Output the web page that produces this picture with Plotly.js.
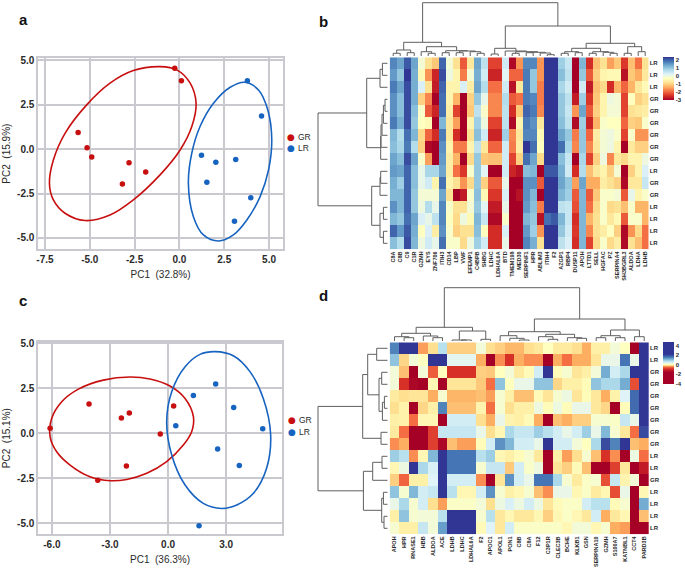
<!DOCTYPE html>
<html><head><meta charset="utf-8">
<script src="https://cdn.plot.ly/plotly-3.0.1.min.js"></script>
<style>html,body{margin:0;padding:0;background:#fff}#p{width:685px;height:569px}</style>
</head><body><div id="p"></div>
<script>
// ---------- panel a (PCA) ----------
const aGRx=[-5.65,-5.15,-4.89,-2.81,-1.88,-3.18,-0.26,0.11];
const aGRy=[0.93,0.07,-0.44,-0.76,-1.29,-1.96,4.55,3.84];
const aLRx=[1.23,2.03,3.14,1.53,3.98,3.07,3.79,4.58];
const aLRy=[-0.35,-0.74,-0.59,-1.87,-2.73,-4.06,3.84,1.87];
const aGRellX=[-1.08,-0.15,0.60,0.93,0.69,0.04,-1.08,-2.57,-3.87,-5.26,-6.38,-7.03,-7.25,-7.03,-6.38,-5.17,-3.87,-2.57,-1.08];
const aGRellY=[4.64,4.46,3.71,2.58,1.27,-0.05,-1.45,-2.86,-3.71,-4.02,-3.61,-2.86,-1.92,-0.61,0.89,2.49,3.71,4.42,4.64];
const aLRellX=[3.66,4.41,4.93,5.15,4.97,4.50,3.76,3.01,2.18,1.34,0.78,0.50,0.69,1.15,1.90,2.83,3.66];
const aLRellY=[3.76,3.33,2.20,0.52,-1.17,-2.67,-3.99,-4.83,-5.17,-4.83,-3.80,-1.92,-0.23,1.27,2.58,3.48,3.76];
// ---------- panel c (PCA) ----------
const cGRx=[-6.09,-4.08,-2.41,-2.00,0.29,-0.40,-2.15,-3.63];
const cGRy=[0.28,1.63,0.85,1.13,1.52,-0.04,-1.81,-2.61];
const cLRx=[0.40,1.31,2.46,3.39,4.89,2.56,3.68,1.60];
const cLRy=[0.43,2.11,2.74,1.44,0.26,-0.87,-1.78,-5.13];
const cGRellX=[-1.96,-0.93,0.10,0.88,1.31,1.22,0.79,-0.07,-1.10,-2.13,-2.99,-4.03,-5.06,-5.75,-6.09,-6.01,-5.49,-4.63,-3.34,-1.96];
const cGRellY=[3.13,3.02,2.63,1.94,0.93,0.09,-0.65,-1.57,-2.22,-2.56,-2.63,-2.41,-1.76,-1.02,-0.19,0.83,1.76,2.46,2.96,3.13];
const cLRellX=[2.43,3.37,4.23,4.92,5.30,5.09,4.41,3.55,2.77,1.82,0.88,0.19,-0.07,0.19,0.88,1.65,2.43];
const cLRellY=[4.54,4.31,3.43,1.94,-0.09,-1.94,-3.33,-3.98,-4.17,-3.89,-2.87,-1.20,0.65,2.31,3.70,4.39,4.54];
const aXticks=[-7.5,-5,-2.5,0,2.5,5], aXlabels=["-7.5","-5.0","-2.5","0.0","2.5","5.0"];
const yTicks=[-5,-2.5,0,2.5,5], yLabels=["-5.0","-2.5","0.0","2.5","5.0"];
const cXticks=[-6,-3,0,3], cXlabels=["-6.0","-3.0","0.0","3.0"];
// ---------- heatmap b ----------
const bCols=["C8A","C8B","C9","C1R","GZMH","EYS","ZNF706","ITIH3","CD14","LBP","VWF","EFEMP1","C4BPB","SHBG","LDHC","LDHAL6A","BTD","TMEM198","MED30","SERPINF1","HPR","ABLIM3","ITIH4","F2","AZGP1","RBP4","DUSP11","APOH","LTTD1","SELL","HGFAC","PZ","SERPINA4","SH3BGRL3","ALDOA","LDHA","LDHB"];
const bRows=["LR","LR","LR","GR","GR","GR","GR","GR","GR","LR","GR","GR","LR","LR","LR","LR"];
const bVals=[
[1.7,1.4,2.1,1.4,-0.1,-0.8,-1.1,2.0,-0.1,-0.8,-2.1,-0.7,1.4,0.6,-2.3,-2.3,0.4,-2.9,-1.6,1.7,1.7,-1.6,2.4,2.4,0.9,0.5,-3,1.2,-2.5,-1.2,-0.8,-1.5,-1.1,-2.4,-1.2,-1.9,-0.8],
[1.5,1.0,2.4,1.3,-0.4,-1.6,-2.6,2.2,0.0,-0.5,-1.8,-0.1,1.3,0.4,-2.6,-2.6,0.2,-2.0,-2.0,1.8,1.0,-1.6,2.4,2.4,1.1,0.6,-3,1.0,-2.1,-1.0,-0.5,-0.4,-0.4,-2.8,-1.1,-1.4,-0.7],
[1.8,1.4,2.2,1.3,0.3,-0.8,-2.7,2.0,-0.5,-0.5,0.3,-0.6,1.4,0.7,-1.9,-1.9,0.4,-2.8,-0.7,1.8,1.0,-1.8,2.4,2.4,0.8,0.4,-3,0.4,-2.7,-1.2,-0.9,-2.5,-1.3,-2.0,-1.3,-0.7,-0.4],
[1.6,1.1,2.2,1.3,-1.0,-1.7,-3,1.9,-0.5,-1.3,-3,-1.0,1.0,0.1,-1.7,-1.7,0.7,-2.1,-1.9,1.8,1.7,-1.8,2.4,2.4,1.0,0.6,-2.7,0.9,-2.4,-1.1,-0.5,0,-0.1,-2.3,-0.3,-1.0,-0.8],
[1.6,1.1,2.2,1.1,-0.2,-2.1,-2.6,1.9,-0.6,-2.3,-3,-1.1,0.6,-0.2,-1.7,-1.7,0.6,-2.5,-1.1,2.0,1.8,-1.7,2.4,2.4,1.0,0.5,-1.6,1.4,-2.1,-1.0,-0.5,-0.1,-0.1,-2.3,-0.8,-0.7,-0.6],
[1.8,1.3,2.2,1.0,-0.3,-0.4,-3,1.2,-0.7,-1.5,-3,-0.5,0.9,0,-2.3,-2.3,0.6,-2.9,-0.5,1.8,1.6,-0.7,2.4,2.4,1.1,0.6,-2.9,0.9,-2.6,-1.3,-0.2,-0.3,-0.3,-2.0,-1.0,-1.1,-0.2],
[1.2,0.7,1.9,1.2,-0.9,-2.0,-2.5,1.8,-0.7,-2.5,-3,-0.8,1.1,0.4,-2.6,-2.6,0.9,-1.7,-0.7,1.7,1.7,-0.4,2.4,2.4,1.4,1.0,-1.8,1.0,-2.0,-0.6,-0.1,0,-0.2,-2.3,-0.2,-1.6,-1.6],
[1.1,0.8,1.8,0.7,-1.0,-2.9,-3,1.6,-0.5,-1.8,-1.8,-0.5,0.6,-0.7,-2.0,-2.0,0.4,-1.8,-0.6,2.4,1.9,-0.3,2.4,2.4,1.9,0.8,-1.7,1.0,-1.7,-0.7,-0.1,0,-0.5,-3,-0.7,-1.0,-1.0],
[1.4,1.1,2.2,1.4,-0.2,-1.5,-3,1.5,-0.6,-1.3,-3,-0.9,1.0,-1.1,-1.2,-1.2,0.4,-2.3,-1.0,1.9,1.4,-0.9,2.4,2.4,1.1,0.5,-3,0.8,-2.3,-1.0,0,-1.7,-0.7,-0.9,-0.5,-0.5,0],
[1.5,1.4,2.0,1.1,0.1,0.8,0.8,1.4,-0.6,-1.9,-2.4,-0.2,1.0,0.2,-3,-3,0.4,-2.6,-2.8,1.1,1.2,-3,2.1,2.1,1.3,0.4,-2.5,0.7,-1.2,-0.7,-0.5,-1.0,-0.1,-3,-1.0,-0.5,0.3],
[1.3,0.9,2.0,1.1,0.1,0.4,-0.5,1.9,-0.5,-0.8,-1.6,-0.9,1.0,-1.0,-2.1,-2.1,0.1,-3,-3,1.6,1.6,-2.1,2.4,2.4,1.4,1.0,-1.5,1.4,-1.4,-1.4,-0.6,-0.8,-1.0,-2.9,-0.7,-0.7,0.5],
[1.2,1.2,2.0,1.0,-0.1,-0.1,-0.1,1.4,-0.8,-3,-2.7,-0.2,1.1,-0.4,-2.4,-2.4,0.3,-3,-2.8,1.6,1.2,-3,2.4,2.4,1.2,0.9,-2.1,1.2,-2.1,-1.1,-0.2,-0.2,-0.1,-2.1,0.1,-0.5,-0.2],
[1.6,1.2,2.0,1.0,0,0.7,0.1,1.7,-0.2,-0.8,-0.8,-0.1,1.0,0.2,-2.7,-2.7,0.1,-3,-3,1.5,1.1,-1.8,2.4,2.4,0.6,0.5,-2.2,1.2,-1.9,-0.9,-0.2,-0.9,-0.8,-1.2,-0.2,-1.3,-1.3],
[1.2,1.0,1.9,1.4,0.3,0.1,0.6,1.7,-0.3,-0.9,0,-0.4,1.2,0.5,-2.9,-2.9,-0.2,-3,-3,1.2,1.0,-2.8,1.9,2.1,1.2,0.5,-2.5,1.2,-1.3,-0.8,-0.2,-0.7,-0.4,-2.1,-0.2,-0.2,-1.3],
[2.0,1.5,2.1,1.3,-0.3,0.3,-0.6,1.6,-0.2,-1.0,-0.8,-0.8,1.1,-0.3,-2.5,-2.5,0.3,-3,-3,1.5,0.9,-1.6,2.4,2.4,1.0,0.4,-2.4,1.2,-1.7,-0.8,-0.6,-0.3,-1.0,-2.9,-1.6,-0.9,-1.9],
[1.1,0.7,2.2,1.2,0,0.4,0.1,1.9,-0.2,-0.2,-0.9,0,0.9,0.4,-2.5,-2.5,0.1,-3,-3,1.7,1.3,-0.8,2.4,2.4,0.6,0.3,-2.5,1.2,-2.3,-0.9,-0.2,-0.9,-0.6,-2.9,-0.8,-1.2,-1.9]
];
// ---------- heatmap d ----------
const dCols=["APOH","HPR","RNASE1","HBB","ALDOA","ACE","LDHB","LDHC","LDHAL6A","F2","APOC1","APOL1","PON1","C8B","C8A","F12","C3P1R","CLEC3B","BCHE","KLKB1","GSN","SERPINA10","GZMH","S100A7","KATNBL1","CCT4","PARD3B"];
const dRows=["LR","LR","GR","GR","GR","GR","GR","GR","GR","LR","LR","GR","LR","LR","LR","LR"];
const dVals=[
[1.5,3,3,-0.35,-0.15,0.7,-0.2,-0.2,-0.2,0.2,-0.15,-0.2,-0.27,-0.27,-0.15,-0.1,0.05,-0.08,-0.08,-0.15,-0.3,-0.05,-0.05,0.2,0.05,-2.5,4],
[1.0,-0.18,0.2,0.05,3,3,0.35,0.35,0.35,-0.3,-2.5,-0.4,-0.9,-0.3,-0.4,-0.4,-2.5,-0.3,-0.5,-0.3,-0.3,-0.12,0.3,0.3,1.6,0.3,4],
[0.2,-0.25,-2.5,0.2,-0.6,0.05,-0.9,-0.9,-0.9,-0.2,-0.22,0.05,0.2,-0.08,0.02,0.5,3,0.03,0.15,-0.12,-0.05,0.2,1.2,0.5,0.8,3,4],
[0.2,-0.9,-1.5,-2.2,0.0,-1.6,-0.12,-0.12,-0.12,-0.22,-0.5,1.0,0.05,0.3,0.3,1.0,1.0,-0.18,-0.05,-0.05,0.03,1.0,0.8,0.8,1.2,-0.7,4],
[-0.08,-0.15,-0.12,-0.12,-0.3,0.15,-0.28,-0.28,-0.28,-0.25,-0.35,0.15,-0.05,-0.25,-0.25,0.02,-0.12,0.15,0.25,-0.12,0.03,-0.1,-0.3,-0.03,0.4,1.7,4],
[-0.15,-0.03,-2.5,-0.18,-0.05,1.5,-0.25,-0.25,-0.25,-0.02,-0.5,0.15,-0.15,-0.05,-0.05,0.25,0.03,0.25,0.03,0.3,0.3,-0.1,-0.18,-2.5,0.03,1.7,4],
[-0.05,-0.03,-0.5,0,0,-1.6,0.5,0.5,0.5,-0.15,-0.3,0.3,-0.02,-0.05,0.02,-0.3,-1.6,-0.25,-0.3,-0.2,-0.2,0.15,0.15,0.1,0.6,0.3,4],
[-0.08,-0.5,-2.5,-2.5,-0.8,0.6,0.6,0.6,0.6,0.3,-0.15,0.0,0.8,0.6,0.6,0.9,0.7,0.5,0.3,0.5,0.9,0.3,1.1,0.15,-0.1,-0.5,2.0],
[-0.4,-0.3,-2.5,-2.5,-0.8,-1.5,-0.25,-0.35,-0.35,0.03,0.5,1.4,1.1,0.5,0.5,0.3,3,0.5,0.5,0.2,0.05,0.8,2,1.5,2.7,-0.25,-0.3],
[0.9,0.7,-0.4,0.0,1.1,3,1.6,1.6,1.6,0.7,0.9,0,-0.05,0.03,0.15,-0.1,-2.5,-0.05,-0.35,-0.15,0.15,-0.25,-0.9,-0.4,-2.5,0.25,-0.5],
[0.0,0.25,3,0.8,0.45,3,1.6,1.6,1.6,0.15,0.6,0.6,-0.22,0.5,0.12,0.25,-1.8,-0.12,-0.2,0.02,-0.25,-2.5,-1.8,-0.8,-0.1,-2.5,-1.2],
[-0.2,-0.55,-0.05,-0.05,0.4,3,0.5,0.5,0.5,-0.4,-2.5,-0.12,1.4,0.5,0.3,1.6,1.6,0.8,0.15,-0.08,0.1,0.15,-0.7,0.6,-0.02,0.2,-2.5],
[1.0,0.15,1.1,0.5,0.6,3,0.7,0.0,0,0.5,1.4,0.15,-0.05,0.0,0.15,-0.25,-0.4,0.3,0.3,0.0,0.1,-0.08,0.0,-0.7,0.3,-2.5,0],
[0.3,0.8,0.15,0.5,-0.15,-0.35,0.1,0.1,0.1,0.2,-0.15,0.25,0.45,0.25,0.5,0.25,-0.12,0.02,0.1,0.1,0.5,0.7,0.7,0.02,0.15,-2.5,1.2],
[-0.05,1.0,0.15,0.2,0.2,0.7,2.4,2.4,2.4,0.15,0.7,-0.1,0.0,-0.1,-0.1,0.0,-0.2,0.0,0.1,0.0,-0.1,0.5,-0.3,-0.1,0.0,-2.5,-0.25],
[0.15,-0.05,-0.05,0.6,0.2,1.3,2.4,2.4,2.4,0.02,0.4,-0.1,0.5,0.1,0.1,0.1,0.1,0.1,0.0,0.2,0.2,0.0,0.15,-0.3,-0.35,-2.5,-2.5]
];
// ---------- dendrograms: nested [height, left, right], a plain number is a leaf index ----------
const bColTree=[53.3,
 [13.7,[6,[2.7,0,1],[3.3,2,3]],[9.3,[4.3,4,[2.7,5,6]],[5.3,[3.3,7,8],[5,[3.3,9,10],[4.3,11,[2.7,12,13]]]]]],
 [30,[7.7,[2,14,15],[5,16,[4.3,[2.7,17,18],[3.7,[3.3,19,20],[3,21,[1.3,22,23]]]]]],
  [12.7,[7.7,[4.3,[2.7,24,25],[3.3,26,27]],[4.3,[2.7,28,29],[3.7,30,[2.7,31,32]]]],[9.3,[2.7,33,34],[4.3,35,36]]]]];
const bRowTree=[69.7,
 [21,[7.7,[5.3,0,1],2],[7,[6.7,[5.7,[4.3,[2.7,3,4],5],6],7],8]],
 [16,[7.7,[7,9,10],11],[7.7,[4.3,12,13],[4.3,14,15]]]];
const dColTree=[53.3,
 [13.7,[7.7,[4.3,0,[3.3,1,2]],[5,3,[3.3,4,5]]],[10,[1,6,[1,7,8]],[1.7,9,10]]],
 [22,[9.3,[5.3,11,[2.7,12,[1,13,14]]],[6.7,[4.3,15,[1.7,16,17]],[3.3,18,[2.7,19,20]]]],
  [11,[5.3,[3.3,21,22],[3.3,23,24]],[4.3,25,26]]]];
const dRowTree=[69.7,
 [25,[20,[11,0,1],[8.7,[6,2,3],[5.3,[3.3,4,5],6]]],[6.7,7,8]],
 [24.3,[15,[5.7,9,10],11],[6,[4.3,12,13],[3.7,14,15]]]];
// ---------- colour scales ----------
const bStops=[-3,-2.46,-1.92,-1.38,-0.84,-0.3,0.24,0.78,1.32,1.86,2.4];
const bColors=["#a50026","#d73027","#f46d43","#fdae61","#fee090","#ffffbf","#e0f3f8","#abd9e9","#74add1","#4575b4","#313695"];
const dStops=[-4.1,-1.6,-0.9,-0.5,-0.3,-0.15,0.05,0.4,0.8,1.2,1.6,2.2,4.8];
const dColors=["#a50026","#a50026","#d73027","#f46d43","#fdae61","#fee090","#ffffbf","#e0f3f8","#abd9e9","#74add1","#4575b4","#313695","#313695"];

const W=685,H=569,RED="#c80f0f",BLUE="#1763c0",GRID="#c9c9cf",TXT="#2a2a2a",FAM="'Liberation Sans',Arial,sans-serif";
const xd=(a,b)=>[a/W,b/W], yd=(t,b)=>[1-b/H,1-t/H];
const scale=(s,c)=>s.map((v,i)=>[(v-s[0])/(s[s.length-1]-s[0]),c[i]]);
function walk(t,out){
  if(typeof t==="number") return {p:t,h:0};
  const a=walk(t[1],out), b=walk(t[2],out);
  out.p.push(a.p,a.p,b.p,b.p,null); out.h.push(a.h,t[0],t[0],b.h,null);
  return {p:(a.p+b.p)/2,h:t[0]};
}
function dendro(tree){const o={p:[],h:[]};walk(tree,o);return o;}
const traces=[];
function pca(gx,gy,lx,ly,gex,gey,lex,ley,xa,ya){
  traces.push({type:"scatter",mode:"lines",x:gex,y:gey,xaxis:xa,yaxis:ya,line:{color:RED,width:1.6,shape:"spline",smoothing:1},showlegend:false,hoverinfo:"skip"});
  traces.push({type:"scatter",mode:"lines",x:lex,y:ley,xaxis:xa,yaxis:ya,line:{color:BLUE,width:1.6,shape:"spline",smoothing:1},showlegend:false,hoverinfo:"skip"});
  traces.push({type:"scatter",mode:"markers",name:"GR",x:gx,y:gy,xaxis:xa,yaxis:ya,showlegend:false,marker:{color:RED,size:5.5},cliponaxis:false});
  traces.push({type:"scatter",mode:"markers",name:"LR",x:lx,y:ly,xaxis:xa,yaxis:ya,showlegend:false,marker:{color:BLUE,size:5.5},cliponaxis:false});
}
pca(aGRx,aGRy,aLRx,aLRy,aGRellX,aGRellY,aLRellX,aLRellY,"x","y");
pca(cGRx,cGRy,cLRx,cLRy,cGRellX,cGRellY,cLRellX,cLRellY,"x2","y2");
function heat(vals,cols,rows,stops,colors,xa,ya,cbTop,cbH,cbTicks){
  traces.push({type:"heatmap",z:vals,x:cols.map((_,i)=>i),y:rows.map((_,i)=>i),xaxis:xa,yaxis:ya,
    zmin:stops[0],zmax:stops[stops.length-1],colorscale:scale(stops,colors),zsmooth:false,hoverinfo:"skip",
    colorbar:{x:663.3/W,xanchor:"left",y:1-cbTop/H,yanchor:"top",lenmode:"pixels",len:cbH,thicknessmode:"pixels",thickness:11,
      xpad:0,ypad:0,outlinewidth:0,tickmode:"array",tickvals:cbTicks,ticktext:cbTicks.map(String),ticklen:0,ticks:"",
      tickfont:{size:6,family:FAM,weight:"bold",color:TXT}}});
}
heat(bVals,bCols,bRows,bStops,bColors,"x3","y3",57,42.5,[2,1,0,-1,-2,-3]);
heat(dVals,dCols,dRows,dStops,dColors,"x4","y4",342,41.5,[4,2,0,-2,-4]);
function dtrace(x,y,xa,ya){traces.push({type:"scatter",mode:"lines",x,y,xaxis:xa,yaxis:ya,line:{color:"#5f5f5f",width:1},showlegend:false,hoverinfo:"skip",cliponaxis:false});}
let d=dendro(bColTree); dtrace(d.p,d.h,"x3","y5");
d=dendro(bRowTree); dtrace(d.h,d.p,"x5","y3");
d=dendro(dColTree); dtrace(d.p,d.h,"x4","y6");
d=dendro(dRowTree); dtrace(d.h,d.p,"x6","y4");

const tickF={size:10,family:FAM,weight:"bold",color:TXT};
function pcaX(dom,rng,tv,tt,title,anchor){return {domain:dom,range:rng,anchor,tickmode:"array",tickvals:tv,ticktext:tt,tickfont:tickF,showgrid:true,gridcolor:GRID,gridwidth:2,zeroline:false,showline:true,linecolor:GRID,linewidth:2,mirror:true,ticks:"",title:{text:title,font:{size:10,family:FAM,color:TXT},standoff:7}};}
function pcaY(dom,rng,title,anchor){return {domain:dom,range:rng,anchor,tickmode:"array",tickvals:yTicks,ticktext:yLabels,tickfont:tickF,showgrid:true,gridcolor:GRID,gridwidth:2,zeroline:false,showline:true,linecolor:GRID,linewidth:2,mirror:true,ticks:"",title:{text:title,font:{size:10,family:FAM,color:TXT},standoff:5}};}
function hx(dom,cols,anchor){return {domain:dom,range:[-0.5,cols.length-0.5],anchor,tickmode:"array",tickvals:cols.map((_,i)=>i),ticktext:cols,tickangle:-90,tickfont:{size:5.5,family:FAM,weight:"bold",color:TXT},ticks:"",showgrid:false,zeroline:false,showline:false};}
function hy(dom,rows,anchor){return {domain:dom,range:[rows.length-0.5,-0.5],anchor,side:"right",tickmode:"array",tickvals:rows.map((_,i)=>i),ticktext:rows,tickfont:{size:6,family:FAM,weight:"bold",color:TXT},ticks:"",showgrid:false,zeroline:false,showline:false};}
const hid=(dom,rng,anchor)=>({domain:dom,range:rng,anchor,visible:false,fixedrange:true});
const lab=(t,x,y)=>({text:"<b>"+t+"</b>",x:x/W,y:1-y/H,xref:"paper",yref:"paper",showarrow:false,xanchor:"center",yanchor:"middle",font:{size:15,family:FAM,color:"#111"}});
const keyDot=(c,x,y)=>({text:"●",x:x/W,y:1-y/H,xref:"paper",yref:"paper",showarrow:false,xanchor:"center",yanchor:"middle",font:{size:9,family:"DejaVu Sans",color:c}});
const keyTxt=(t,x,y)=>({text:t,x:x/W,y:1-y/H,xref:"paper",yref:"paper",showarrow:false,xanchor:"left",yanchor:"middle",xshift:-1,font:{size:8.5,family:FAM,color:TXT}});
const layout={width:W,height:H,margin:{l:0,r:0,t:0,b:0},paper_bgcolor:"#fff",plot_bgcolor:"#fff",font:{family:FAM},showlegend:false,
  xaxis:pcaX(xd(38.3,282.7),[-7.87,5.76],aXticks,aXlabels,"PC1  (32.8%)","y"),
  yaxis:pcaY(yd(58.3,249),[-5.62,5.11],"PC2  (15.9%)","x"),
  xaxis2:pcaX(xd(38.3,281.7),[-6.70,5.87],cXticks,cXlabels,"PC1  (36.3%)","y2"),
  yaxis2:pcaY(yd(342.3,534),[-5.59,5.06],"PC2  (15.1%)","x2"),
  xaxis3:hx(xd(389.7,648.7),bCols,"y3"),
  yaxis3:hy(yd(57.3,249.3),bRows,"x3"),
  xaxis4:hx(xd(389.7,649),dCols,"y4"),
  yaxis4:hy(yd(342.3,534.3),dRows,"x4"),
  yaxis5:hid(yd(0,56),[0,56],"x3"),
  yaxis6:hid(yd(285,341),[0,56],"x4"),
  xaxis5:hid(xd(316,387.7),[71.7,0],"y3"),
  xaxis6:hid(xd(316,387.7),[71.7,0],"y4"),
  annotations:[lab("a",23,19.5),lab("b",323,22),lab("c",23,300),lab("d",323,295),
    keyDot(RED,291,136.5),keyTxt("GR",297,136.5),keyDot(BLUE,291,148),keyTxt("LR",297,148),
    keyDot(RED,291.7,420),keyTxt("GR",297.5,420),keyDot(BLUE,291.7,431.7),keyTxt("LR",297.5,431.7)]
};
Plotly.newPlot("p",traces,layout,{staticPlot:true,displayModeBar:false});
</script></body></html>
